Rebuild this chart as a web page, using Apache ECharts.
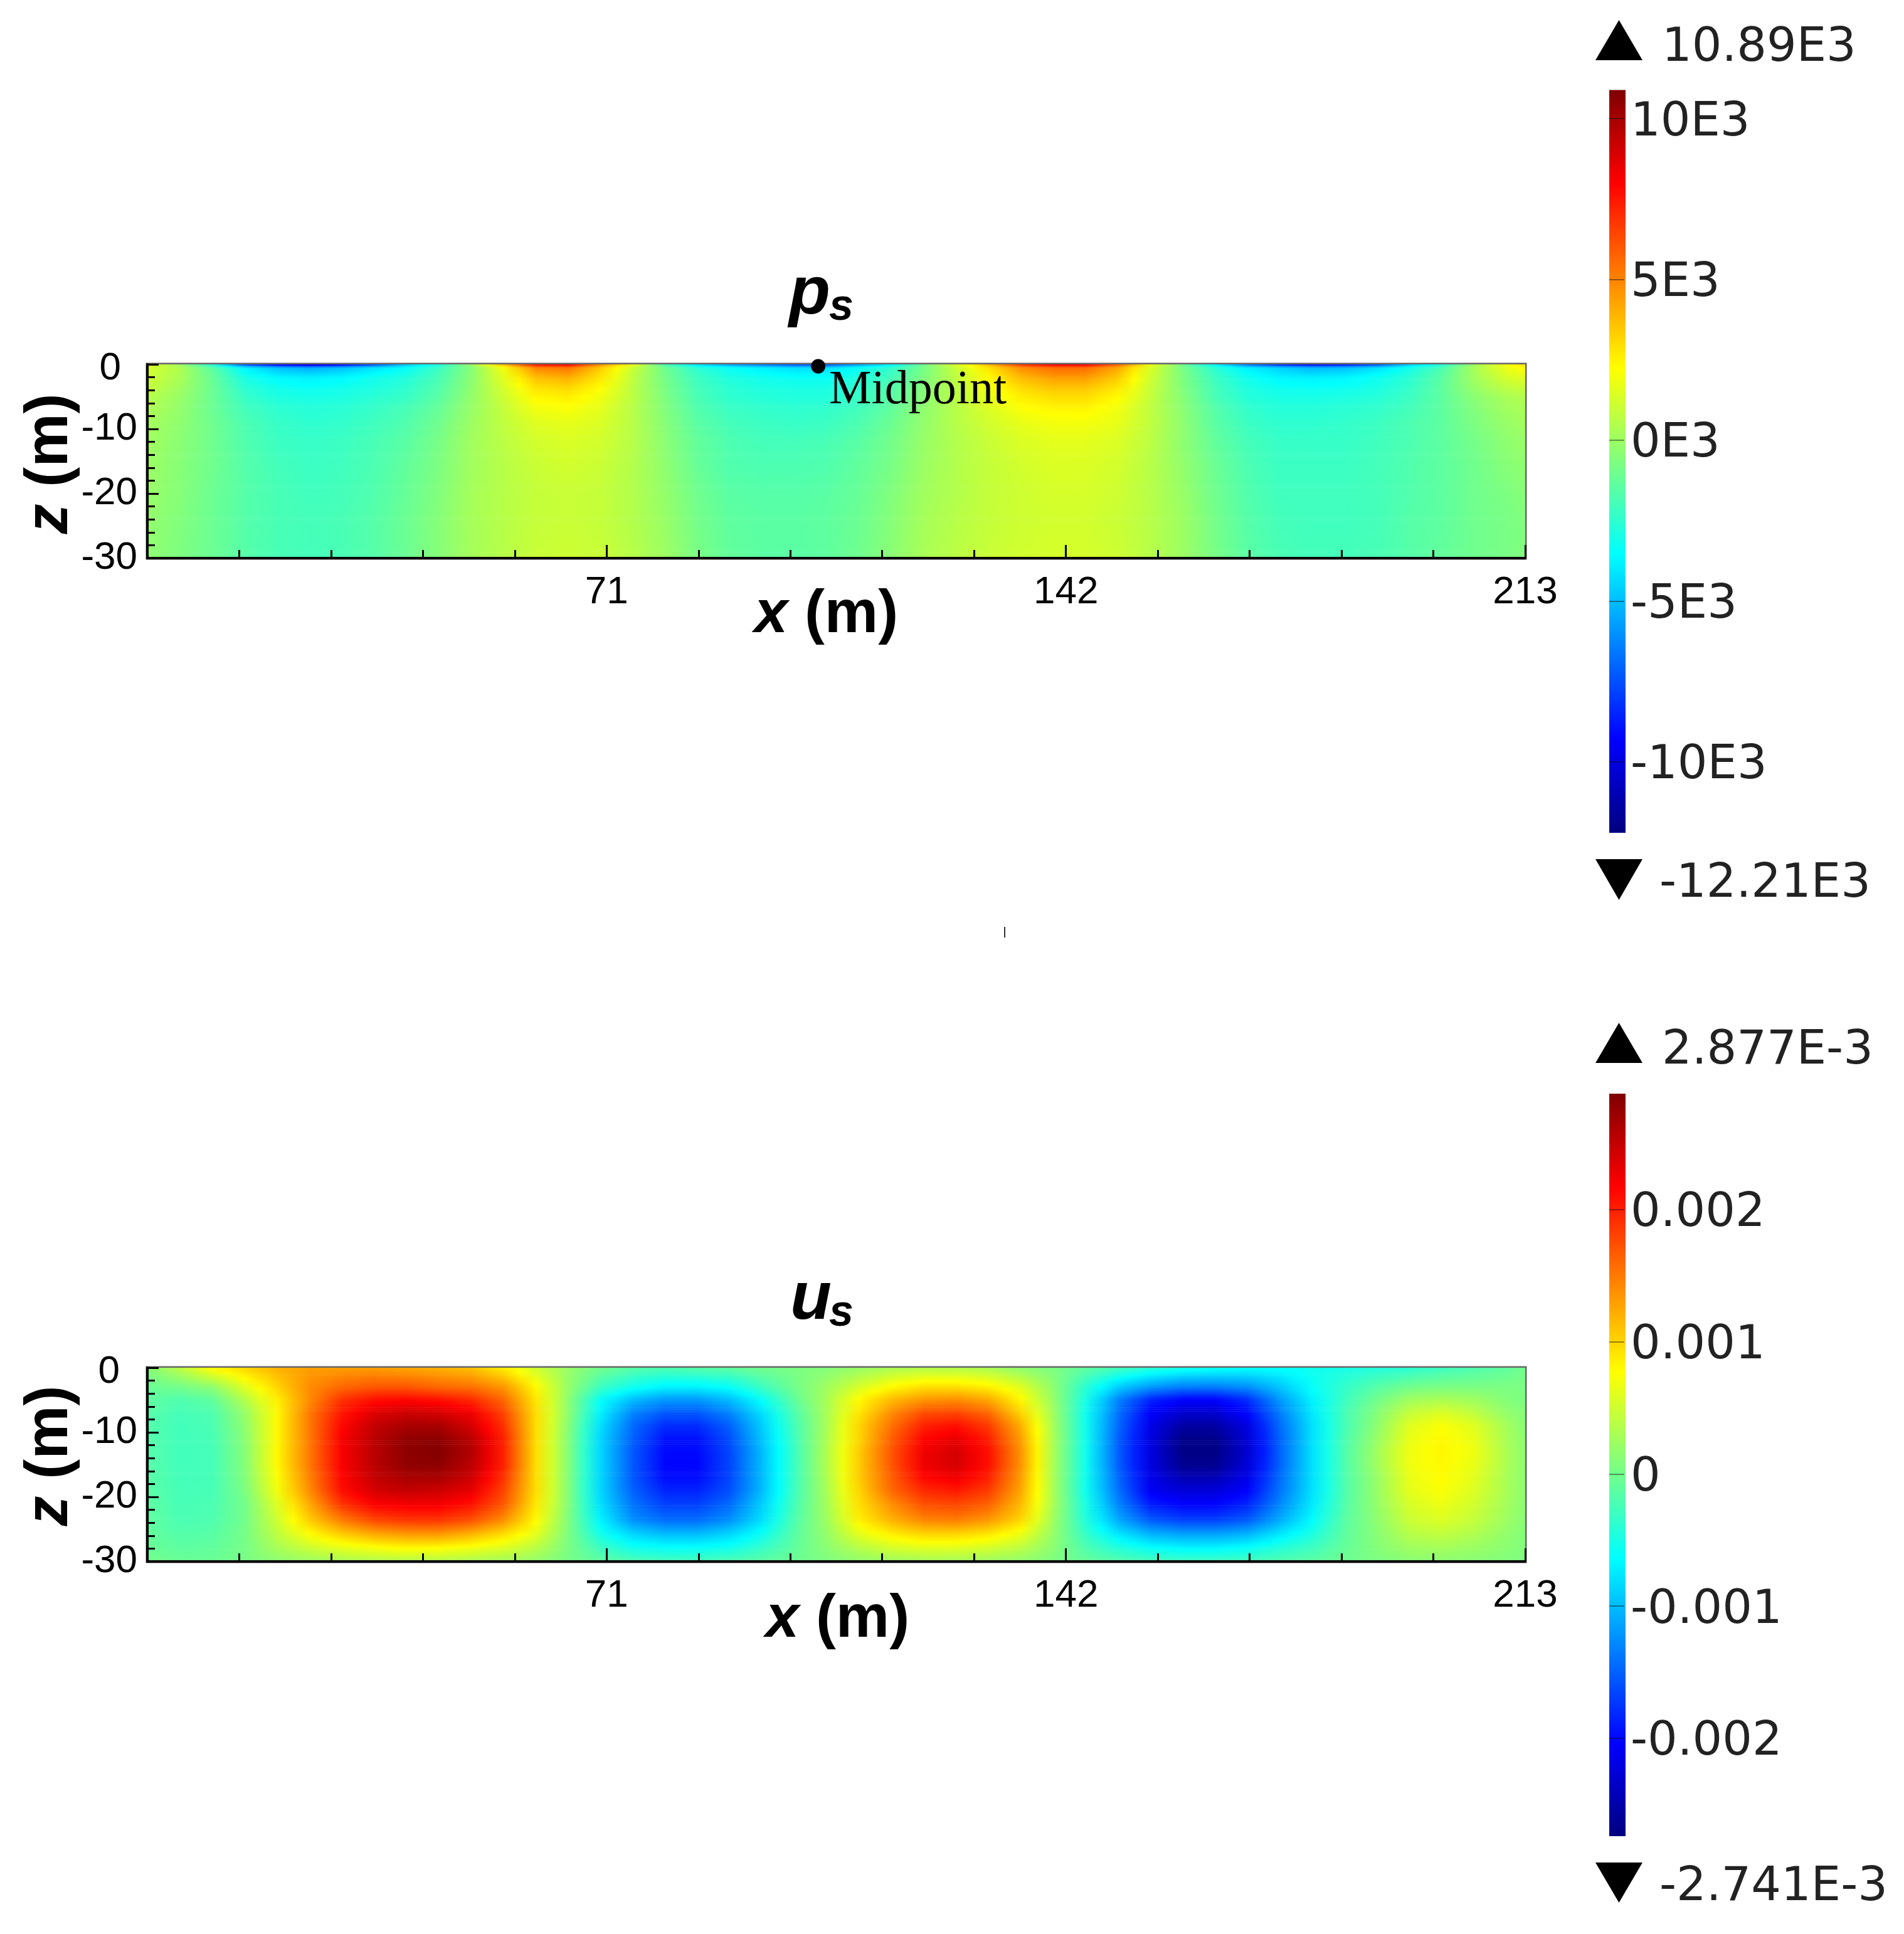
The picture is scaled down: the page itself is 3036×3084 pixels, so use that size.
<!DOCTYPE html>
<html>
<head>
<meta charset="utf-8">
<title>ps us</title>
<script src="https://cdn.jsdelivr.net/npm/echarts@6/dist/echarts.min.js"></script>
<style>
html,body{margin:0;padding:0;background:#fff;}
#main{width:3036px;height:3084px;}
</style>
</head>
<body>
<div id="main"></div>
<script>
// x nodes of the two fields (m)
var xNodes = [0,5,10,15,20,25,30,35,40,45, 50,55,60,65,70,75,80,85,90,95, 100,105,110,115,120,125,130,135,140,145, 150,155,160,165,170,175,180,185,190,195, 200,205,210,213];

// ps, unit E3. one line per depth
var pDepths = [0,-0.5,-2,-3.5,-5,-7,-9,-12,-16,-20,-24,-30];
var pRows = [
	[1.5,0,-3,-8,-10,-11,-10,-8,-5,-3, 0,4,8,8.5,5,2,-2,-4.5,-6,-7, -8,-8,-6,-4,-1,1.5,4,7,8.5,8.5, 6,2,-1,-4,-7,-9,-10,-9.5,-8,-5, -3,0,2,3],
	[1.3,.4,-1.5,-3.8,-5,-5.5,-5,-4.2,-3.5,-2.2, -.5,2,5,5.4,3.4,1,-1,-2.6,-3.4,-3.9, -4.3,-4.3,-3.4,-2.4,-.8,1,2.8,4.8,5.6,5.6, 4.2,1.4,-.8,-2.6,-3.9,-4.6,-5.2,-5,-4.3,-3.2, -1.8,.2,1.8,2.3],
	[1.1,.3,-1.2,-3,-3.7,-3.9,-3.7,-3.2,-2.8,-1.9, -.4,1.6,3.7,4.1,2.8,.8,-.9,-2.2,-2.9,-3.2, -3.4,-3.4,-2.8,-2,-.7,.8,2.3,3.8,4.5,4.5, 3.4,1.2,-.7,-2.2,-3.2,-3.8,-3.9,-3.8,-3.3,-2.6, -1.5,.1,1.3,1.6],
	[.9,.1,-1.1,-2.6,-3.2,-3.4,-3.2,-2.9,-2.5,-1.7, -.3,1.3,2.9,3.2,2.3,.7,-.8,-2,-2.6,-2.9, -3,-3,-2.5,-1.7,-.5,.7,2,3.1,3.6,3.6, 2.8,1,-.6,-2,-2.9,-3.3,-3.4,-3.3,-3,-2.4, -1.4,-.1,.8,1],
	[.6,-.1,-1.1,-2.3,-2.9,-3,-2.9,-2.6,-2.3,-1.5, -.2,1.1,2.4,2.6,1.9,.7,-.7,-1.9,-2.5,-2.7, -2.8,-2.8,-2.3,-1.5,-.4,.7,1.7,2.6,3,3, 2.3,.9,-.5,-1.9,-2.7,-3,-3,-2.9,-2.7,-2.2, -1.4,-.4,.3,.5],
	[.4,-.2,-1.1,-2,-2.5,-2.7,-2.6,-2.3,-1.9,-1.2, -.1,.9,1.9,2.1,1.6,.6,-.6,-1.7,-2.2,-2.4, -2.5,-2.4,-2,-1.3,-.3,.6,1.4,2.1,2.4,2.4, 1.9,.8,-.4,-1.6,-2.4,-2.7,-2.7,-2.6,-2.4,-2, -1.4,-.6,.1,.3],
	[.2,-.3,-1,-1.8,-2.3,-2.5,-2.4,-2.1,-1.7,-1, 0,.8,1.5,1.7,1.4,.6,-.5,-1.5,-2,-2.2, -2.3,-2.2,-1.8,-1.1,-.2,.6,1.2,1.7,2,2, 1.7,.8,-.3,-1.5,-2.2,-2.5,-2.5,-2.4,-2.2,-1.8, -1.4,-.7,-.1,.1],
	[.1,-.4,-1,-1.7,-2.2,-2.3,-2.2,-1.9,-1.5,-.8, .1,.7,1.2,1.4,1.2,.6,-.4,-1.3,-1.8,-2, -2,-1.9,-1.5,-.9,-.1,.5,1,1.4,1.6,1.6, 1.4,.7,-.3,-1.3,-2,-2.3,-2.3,-2.3,-2.1,-1.8, -1.4,-.9,-.3,-.1],
	[0,-.5,-1,-1.6,-2,-2.2,-2.1,-1.8,-1.3,-.7, .1,.6,1,1.2,1,.5,-.3,-1.2,-1.7,-1.8, -1.8,-1.7,-1.3,-.8,0,.5,.9,1.2,1.4,1.4, 1.2,.6,-.2,-1.1,-1.8,-2.2,-2.2,-2.2,-2,-1.7, -1.4,-1,-.5,-.3],
	[-.1,-.5,-1.1,-1.6,-1.9,-2.1,-2,-1.7,-1.2,-.6, .2,.6,.9,1,.9,.5,-.2,-1,-1.5,-1.6, -1.6,-1.5,-1.2,-.6,.1,.5,.9,1.1,1.3,1.3, 1.1,.6,-.1,-1,-1.7,-2.1,-2.1,-2.1,-2,-1.7, -1.4,-1,-.7,-.5],
	[-.2,-.6,-1.1,-1.6,-1.9,-2,-1.9,-1.6,-1.1,-.5, .2,.6,.9,1,.9,.5,-.1,-.9,-1.4,-1.5, -1.5,-1.4,-1.1,-.5,.2,.6,.9,1.1,1.2,1.2, 1,.6,0,-.9,-1.6,-2,-2.1,-2.1,-2,-1.6, -1.4,-1,-.8,-.6],
	[-.3,-.7,-1.1,-1.6,-1.9,-2,-1.9,-1.6,-1.1,-.5, .2,.6,1,1.1,1,.6,0,-.8,-1.3,-1.5, -1.5,-1.4,-1,-.4,.3,.7,1,1.2,1.3,1.3, 1.1,.6,0,-.8,-1.5,-1.9,-2,-2,-1.9,-1.6, -1.3,-1,-.8,-.6]
];

// us, unit E-3
var uDepths = [0,-3,-5,-7,-9,-11,-13,-15,-17,-19,-21,-23.5,-25.5,-27.8,-30];
var uRows = [
	[.1,.4,.8,1,1.2,1.3,1.3,1.3,1.25,1.2, 1.1,.85,.5,.2,0,-.15,-.2,-.15,-.1,0, .05,.1,.2,.3,.35,.35,.3,.15,.05,-.1, -.25,-.4,-.5,-.55,-.6,-.6,-.55,-.5,-.45,-.4, -.3,-.2,-.1,0],
	[-.05,0,.15,.6,1,1.4,1.6,1.7,1.7,1.6, 1.55,1.35,.8,.2,-.3,-.55,-.7,-.7,-.6,-.3, 0,.25,.55,.8,.95,.95,.85,.6,.15,-.4, -.9,-1.2,-1.35,-1.35,-1.25,-.95,-.6,-.35,-.15,0, .05,.05,.05,.05],
	[-.1,-.2,-.1,.35,.85,1.4,1.9,2.1,2.15,2.1, 1.95,1.6,.9,.15,-.6,-1,-1.2,-1.2,-1,-.6, -.1,.3,.8,1.15,1.35,1.4,1.25,.8,.2,-.5, -1.3,-1.85,-2.05,-2.05,-1.8,-1.2,-.7,-.3,0,.25, .32,.25,.1,.05],
	[-.15,-.25,-.2,.2,.8,1.5,2.05,2.35,2.45,2.4, 2.25,1.8,.95,.15,-.7,-1.3,-1.55,-1.55,-1.3,-.8, -.2,.3,.9,1.4,1.75,1.8,1.6,1,.25,-.55, -1.4,-2.05,-2.3,-2.3,-2,-1.35,-.75,-.25,.1,.45, .58,.42,.18,.1],
	[-.17,-.27,-.22,.15,.8,1.5,2.15,2.5,2.65,2.65, 2.4,1.9,.95,.12,-.8,-1.45,-1.8,-1.8,-1.5,-.9, -.25,.3,1,1.55,2,2.1,1.85,1.2,.28,-.55, -1.45,-2.15,-2.55,-2.55,-2.2,-1.45,-.8,-.25,.15,.6, .75,.6,.28,.12],
	[-.16,-.27,-.24,.12,.8,1.5,2.2,2.55,2.78,2.8, 2.55,2,.95,.1,-.85,-1.5,-1.95,-1.95,-1.6,-.95, -.28,.33,1,1.65,2.15,2.3,2,1.3,.3,-.55, -1.5,-2.2,-2.68,-2.68,-2.25,-1.5,-.8,-.22,.2,.65, .8,.65,.3,.14],
	[-.15,-.27,-.25,.1,.8,1.5,2.2,2.55,2.8,2.85, 2.6,2,.95,.1,-.85,-1.55,-2,-2,-1.65,-1, -.3,.35,1.05,1.7,2.25,2.4,2.1,1.35,.3,-.55, -1.5,-2.2,-2.7,-2.7,-2.3,-1.5,-.8,-.2,.25,.68, .82,.68,.32,.15],
	[-.15,-.27,-.25,.1,.8,1.5,2.2,2.55,2.78,2.8, 2.55,2,.95,.1,-.85,-1.55,-2.02,-2.02,-1.65,-1, -.3,.35,1.05,1.7,2.25,2.4,2.1,1.35,.3,-.55, -1.5,-2.2,-2.65,-2.65,-2.25,-1.5,-.8,-.2,.25,.68, .8,.65,.32,.15],
	[-.14,-.26,-.25,.08,.75,1.45,2.15,2.5,2.65,2.65, 2.45,1.9,.95,.1,-.85,-1.55,-1.98,-1.98,-1.65,-1, -.3,.33,1.05,1.65,2.15,2.25,2,1.3,.3,-.55, -1.45,-2.15,-2.45,-2.45,-2.15,-1.45,-.8,-.2,.2,.65, .78,.62,.3,.15],
	[-.13,-.25,-.24,.05,.7,1.4,2.1,2.4,2.5,2.45, 2.3,1.8,.95,.1,-.85,-1.5,-1.85,-1.85,-1.6,-1, -.28,.3,1,1.6,1.95,2.05,1.85,1.25,.3,-.55, -1.4,-2.1,-2.25,-2.25,-2.05,-1.4,-.8,-.2,.2,.62, .75,.58,.3,.15],
	[-.12,-.24,-.22,0,.6,1.25,1.9,2.2,2.25,2.25, 2.1,1.7,.9,.1,-.8,-1.4,-1.7,-1.7,-1.45,-.9, -.25,.28,.95,1.4,1.75,1.8,1.65,1.15,.3,-.5, -1.3,-1.9,-2.05,-2.05,-1.85,-1.3,-.75,-.18,.18,.55, .68,.52,.27,.14],
	[-.1,-.22,-.2,0,.5,1.05,1.5,1.8,1.9,1.9, 1.75,1.4,.8,.08,-.7,-1.25,-1.45,-1.45,-1.25,-.8, -.2,.25,.85,1.2,1.45,1.5,1.35,1,.25,-.45, -1.1,-1.55,-1.7,-1.7,-1.55,-1.1,-.65,-.15,.15,.48, .58,.45,.24,.12],
	[-.08,-.18,-.15,.02,.42,.8,1.1,1.3,1.4,1.4, 1.25,1,.65,.07,-.55,-.9,-1.05,-1.05,-.9,-.6, -.15,.2,.65,.9,1.05,1.05,.95,.7,.2,-.35, -.8,-1.1,-1.2,-1.2,-1.1,-.8,-.5,-.12,.12,.38, .45,.35,.18,.1],
	[-.05,-.12,-.1,.02,.3,.5,.65,.75,.82,.8, .72,.6,.4,.05,-.3,-.55,-.62,-.62,-.55,-.35, -.1,.14,.38,.55,.62,.62,.55,.42,.14,-.2, -.45,-.62,-.7,-.7,-.62,-.45,-.3,-.08,.1,.25, .28,.22,.14,.08],
	[0,-.05,-.05,.04,.14,.22,.28,.32,.35,.34, .3,.25,.18,.03,-.1,-.2,-.25,-.25,-.2,-.12, -.04,.06,.16,.22,.26,.26,.22,.16,.06,-.07, -.16,-.24,-.28,-.28,-.25,-.18,-.12,-.03,.05,.12, .14,.12,.08,.05]
];

var pMin = -12.21, pMax = 10.89;
var uMin = -2.741, uMax = 2.877;
var pTicks = [-10,-5,0,5,10];
var uTicks = [-2,-1,0,1,2];
var midpoint = [103.7,-0.3];

var jet = ['#00007f','#0000ff','#007fff','#00ffff','#7fff7f','#ffff00','#ff7f00','#ff0000','#7f0000'];

function fieldData(rows, depths, min, max) {
	var out = [];
	for (var r = 0; r < rows.length - 1; r++) {
		for (var i = 0; i < xNodes.length - 1; i++) {
			out.push([xNodes[i], xNodes[i+1], depths[r], depths[r+1], rows[r][i], rows[r][i+1], rows[r+1][i], rows[r+1][i+1], min, max]);
		}
	}
	return out;
}

// shading of one cell from its four corner values
function renderCell(params, api) {
	var a = api.coord([api.value(0), api.value(2)]);
	var b = api.coord([api.value(1), api.value(3)]);
	var v00 = api.value(4), v10 = api.value(5), v01 = api.value(6), v11 = api.value(7);
	var lo = api.value(8), hi = api.value(9);
	var bottom = params.coordSys.y + params.coordSys.height;
	var right = params.coordSys.x + params.coordSys.width;
	var steps = Math.max(1, Math.ceil((b[1]-a[1])/3));
	var children = [];
	function col(v) { return echarts.color.lerp((v-lo)/(hi-lo), jet); }
	for (var s = 0; s < steps; s++) {
		var f = (s+0.5)/steps;
		var vl = v00 + (v01-v00)*f, vr = v10 + (v11-v10)*f;
		var y0 = a[1] + (b[1]-a[1])*s/steps;
		var y1 = a[1] + (b[1]-a[1])*(s+1)/steps;
		children.push({
			type: 'rect',
			shape: {x: a[0], y: y0, width: Math.min(b[0]+1, right)-a[0], height: Math.min(y1+0.6, bottom)-y0},
			style: {fill: new echarts.graphic.LinearGradient(0,0,1,0,[
				{offset:0,color:col(vl)},{offset:0.5,color:col((vl+vr)/2)},{offset:1,color:col(vr)}])}
		});
	}
	return {type: 'group', children: children};
}

function renderBar(params, api) {
	var a = api.coord([0, api.value(1)]);
	var b = api.coord([1, api.value(0)]);
	var stops = jet.map(function (c, i) { return {offset: 1 - i/(jet.length-1), color: c}; }).reverse();
	return {
		type: 'rect',
		shape: {x: a[0], y: a[1], width: b[0]-a[0], height: b[1]-a[1]},
		style: {fill: new echarts.graphic.LinearGradient(0,0,0,1,stops)}
	};
}

var tickFont = {fontFamily: 'Liberation Sans', fontSize: 62, color: '#000'};
var nameRich = {
	it: {fontFamily: 'Liberation Sans', fontWeight: 'bold', fontStyle: 'italic', fontSize: 96, color: '#000'},
	b: {fontFamily: 'Liberation Sans', fontWeight: 'bold', fontSize: 96, color: '#000'}
};

function xAxisOf(grid, pad, gap) {
	return {
		type: 'value', gridIndex: grid, min: 0, max: 213, interval: 71, z: 5,
		name: '{it|x}{b| (m)}', nameLocation: 'middle', nameGap: gap, nameMoveOverlap: false,
		nameTextStyle: {rich: nameRich, padding: pad},
		splitLine: {show: false},
		axisLine: {show: true, onZero: false, lineStyle: {color: '#000', width: 4}},
		axisTick: {show: true, inside: true, length: 21, lineStyle: {color: '#000', width: 3}},
		minorTick: {show: true, splitNumber: 5, length: 13, lineStyle: {color: '#000', width: 3}},
		axisLabel: Object.assign({margin: 24, showMinLabel: false, formatter: function (v) { return v === 0 ? '' : String(v); }}, tickFont)
	};
}

function yAxisOf(grid, pad, zeroPad) {
	return {
		type: 'value', gridIndex: grid, min: -30, max: 0, interval: 10, z: 5,
		name: '{it|z}{b| (m)}', nameLocation: 'middle', nameRotate: 90, nameGap: 106, nameMoveOverlap: false,
		nameTextStyle: {rich: nameRich, padding: pad},
		splitLine: {show: false},
		axisLine: {show: true, onZero: false, lineStyle: {color: '#000', width: 4}},
		axisTick: {show: true, inside: true, length: 18, lineStyle: {color: '#000', width: 3}},
		minorTick: {show: true, splitNumber: 5, length: 12, lineStyle: {color: '#000', width: 3}},
		axisLabel: Object.assign({margin: 16, formatter: function (v) { return v === 0 ? '{z|0}' : String(v); },
			rich: {z: Object.assign({padding: [14, zeroPad, 0, 0]}, tickFont)}}, tickFont)
	};
}

function barAxisOf(grid, ticks, min, max, fmt) {
	return {
		type: 'value', gridIndex: grid, min: min, max: max, position: 'left',
		splitLine: {show: false}, z: 5,
		axisLine: {show: false},
		axisTick: {show: true, inside: true, length: 24, customValues: ticks, lineStyle: {color: 'rgba(0,0,0,0.4)', width: 2}},
		axisLabel: {inside: true, margin: 34, customValues: ticks,
			formatter: function (v) { return '{a|' + fmt(v) + '}'; },
			rich: {a: {padding: [14,0,0,0], fontFamily: 'DejaVu Sans', fontSize: 75, color: '#222'}},
			fontFamily: 'DejaVu Sans', fontSize: 75, color: '#222'}
	};
}

function hiddenX(grid) {
	return {type: 'value', gridIndex: grid, min: 0, max: 1, show: false};
}

function plotGrid(top) {
	return {left: 235, top: top, width: 2197, height: 309, show: true, borderColor: '#666', borderWidth: 5, backgroundColor: 'transparent'};
}

function text(x, y, str, font, extra) {
	return {type: 'text', x: x, y: y, style: Object.assign({text: str, font: font, fill: '#000', textVerticalAlign: 'middle'}, extra || {})};
}

function tri(x0, x1, yBase, yTip) {
	return {type: 'polygon', shape: {points: [[x0,yBase],[x1,yBase],[(x0+x1)/2,yTip]]}, style: {fill: '#000'}};
}

var bold = 'italic bold 108px "Liberation Sans"';
var boldSub = 'italic bold 70px "Liberation Sans"';
var barFont = '75px "DejaVu Sans"';

var chart = echarts.init(document.getElementById('main'));
chart.setOption({
	animation: false,
	backgroundColor: '#fff',
	grid: [
		plotGrid(581),
		plotGrid(2181),
		{left: 2566, top: 143.5, width: 26, height: 1184.5},
		{left: 2566, top: 1744, width: 26, height: 1184}
	],
	xAxis: [xAxisOf(0, [0,32,0,0], 44), xAxisOf(1, [0,0,0,4], 46), hiddenX(2), hiddenX(3)],
	yAxis: [
		yAxisOf(0, [0,8,0,0], 26),
		yAxisOf(1, [0,0,0,28], 28),
		barAxisOf(2, pTicks, pMin, pMax, function (v) { return v + 'E3'; }),
		barAxisOf(3, uTicks, uMin, uMax, function (v) { return v === 0 ? '0' : (v/1000).toFixed(3); })
	],
	series: [
		{type: 'custom', xAxisIndex: 0, yAxisIndex: 0, z: 1, silent: true, renderItem: renderCell, progressive: 0,
			encode: {x: [0,1], y: [2,3]}, data: fieldData(pRows, pDepths, pMin, pMax)},
		{type: 'custom', xAxisIndex: 1, yAxisIndex: 1, z: 1, silent: true, renderItem: renderCell, progressive: 0,
			encode: {x: [0,1], y: [2,3]}, data: fieldData(uRows, uDepths, uMin, uMax)},
		{type: 'custom', xAxisIndex: 2, yAxisIndex: 2, z: 1, silent: true, renderItem: renderBar,
			encode: {y: [0,1]}, data: [[pMin, pMax]]},
		{type: 'custom', xAxisIndex: 3, yAxisIndex: 3, z: 1, silent: true, renderItem: renderBar,
			encode: {y: [0,1]}, data: [[uMin, uMax]]},
		{type: 'scatter', xAxisIndex: 0, yAxisIndex: 0, z: 10, clip: false, silent: true, symbolSize: 23,
			itemStyle: {color: '#000', opacity: 1}, data: [midpoint],
			label: {show: true, position: 'right', distance: 6, offset: [0, 39], formatter: 'Midpoint',
				fontFamily: 'Liberation Serif', fontSize: 76, color: '#000'}}
	],
	graphic: [
		text(1258, 470, 'p', bold),
		text(1322, 491, 's', boldSub),
		text(1260, 2073, 'u', bold),
		text(1322, 2095, 's', boldSub),
		tri(2544, 2619, 96, 32),
		tri(2544, 2619, 1370, 1435),
		tri(2544, 2619, 1695, 1631),
		tri(2544, 2619, 2970, 3034),
		text(2650, 78, '10.89E3', barFont, {fill: '#222'}),
		text(2646, 1411, '-12.21E3', barFont, {fill: '#222'}),
		text(2650, 1677, '2.877E-3', barFont, {fill: '#222'}),
		text(2646, 3011, '-2.741E-3', barFont, {fill: '#222'}),
		{type: 'rect', shape: {x: 1601, y: 1478, width: 2, height: 17}, style: {fill: '#333'}}
	]
});
</script>
</body>
</html>
